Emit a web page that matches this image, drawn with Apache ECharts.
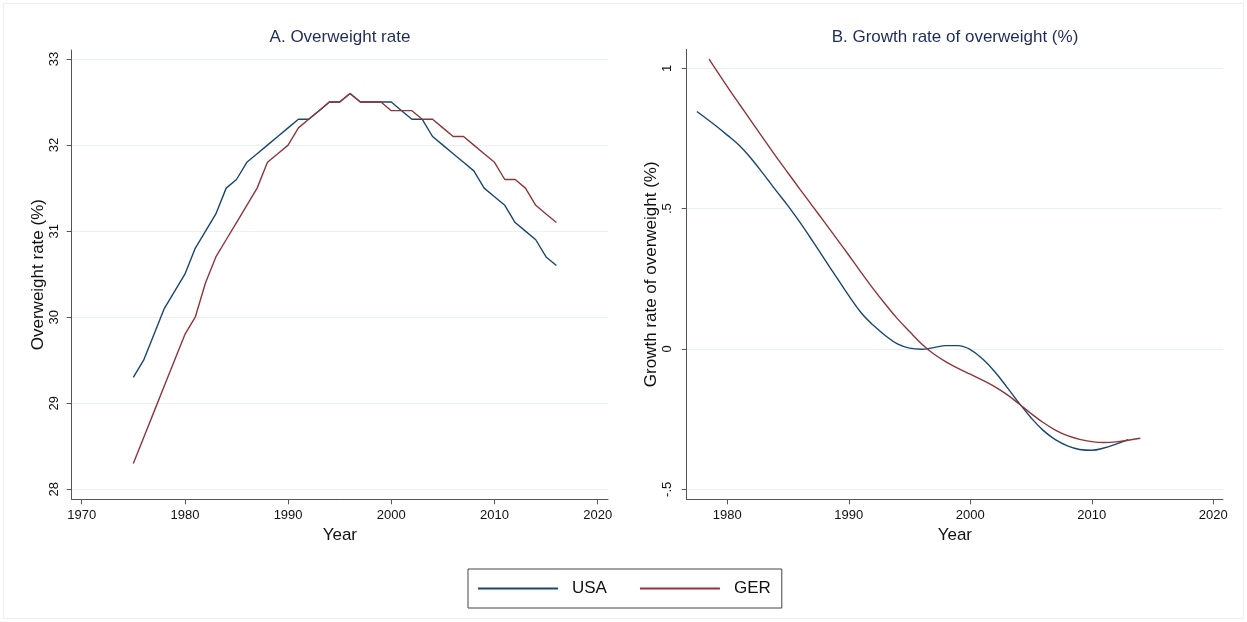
<!DOCTYPE html>
<html>
<head>
<meta charset="utf-8">
<script src="https://cdn.jsdelivr.net/npm/echarts@6.0.0/dist/echarts.min.js"></script>
<style>
html,body{margin:0;padding:0;background:#fff;}
#wrap{position:relative;width:1247px;height:622px;}
#chart{width:1247px;height:622px;}
#wrap::after{content:"";position:absolute;left:3px;top:3px;right:3px;bottom:3px;border:1px solid #eeeeee;pointer-events:none;}
</style>
</head>
<body>
<div id="wrap"><div id="chart"></div></div>
<script>
// ---- Data ----
const years = [1975,1976,1977,1978,1979,1980,1981,1982,1983,1984,1985,1986,1987,1988,1989,1990,1991,1992,1993,1994,1995,1996,1997,1998,1999,2000,2001,2002,2003,2004,2005,2006,2007,2008,2009,2010,2011,2012,2013,2014,2015,2016];
const usaRate = [29.3,29.5,29.8,30.1,30.3,30.5,30.8,31.0,31.2,31.5,31.6,31.8,31.9,32.0,32.1,32.2,32.3,32.3,32.4,32.5,32.5,32.6,32.5,32.5,32.5,32.5,32.4,32.3,32.3,32.1,32.0,31.9,31.8,31.7,31.5,31.4,31.3,31.1,31.0,30.9,30.7,30.6];
const gerRate = [28.3,28.6,28.9,29.2,29.5,29.8,30.0,30.4,30.7,30.9,31.1,31.3,31.5,31.8,31.9,32.0,32.2,32.3,32.4,32.5,32.5,32.6,32.5,32.5,32.5,32.4,32.4,32.4,32.3,32.3,32.2,32.1,32.1,32.0,31.9,31.8,31.6,31.6,31.5,31.3,31.2,31.1];

const usaGrowthYears = [1977.5,1979,1980,1981,1982,1983,1984,1985,1986,1987,1988,1989,1990,1991,1992,1993,1994,1995,1996,1997,1998,1999,2000,2001,2002,2003,2004,2005,2006,2007,2008,2009,2010,2011,2012,2013];
const usaGrowth = [0.846,0.797,0.762,0.725,0.677,0.622,0.565,0.51,0.45,0.386,0.32,0.255,0.19,0.13,0.085,0.048,0.018,0.003,-0.001,0.005,0.012,0.012,-0.002,-0.035,-0.08,-0.135,-0.192,-0.245,-0.29,-0.323,-0.345,-0.358,-0.361,-0.353,-0.339,-0.323];
const gerGrowthYears = [1978.5,1980,1981,1982,1983,1984,1985,1986,1987,1988,1989,1990,1991,1992,1993,1994,1995,1996,1997,1998,1999,2000,2001,2002,2003,2004,2005,2006,2007,2008,2009,2010,2011,2012,2013,2014];
const gerGrowth = [1.033,0.935,0.872,0.81,0.748,0.686,0.627,0.568,0.51,0.452,0.393,0.334,0.274,0.215,0.16,0.108,0.062,0.018,-0.018,-0.046,-0.069,-0.09,-0.111,-0.134,-0.162,-0.195,-0.23,-0.262,-0.289,-0.309,-0.322,-0.33,-0.333,-0.331,-0.325,-0.318];

const leftYTicks = [28,29,30,31,32,33];
const leftXTicks = [1970,1980,1990,2000,2010,2020];
const rightYTicks = [-0.5,0,0.5,1];
const rightYLabels = {'-0.5':'-.5','0':'0','0.5':'.5','1':'1'};
const rightXTicks = [1980,1990,2000,2010,2020];
const seriesNames = ['USA','GER'];

// ---- Style ----
const FONT = '"Liberation Sans", Arial, Helvetica, sans-serif';
const AXIS_COLOR = '#555555';
const GRID_COLOR = '#eaf1f2';
const USA_COLOR = '#1a476f';
const GER_COLOR = '#90353b';
const TITLE_COLOR = '#1f2c59';

function pairs(xs, ys){ return xs.map((x,i)=>[x, ys[i]]); }

function xAxisDef(idx, min, max, ticks){
  return {
    type:'value', gridIndex:idx, min:min, max:max,
    name:'Year', nameLocation:'middle', nameGap:26,
    nameTextStyle:{fontSize:17, color:'#111', fontFamily:FONT},
    axisLine:{show:true, onZero:false, lineStyle:{color:AXIS_COLOR, width:1}},
    axisTick:{show:true, length:5, customValues:ticks, lineStyle:{color:AXIS_COLOR}},
    axisLabel:{customValues:ticks, margin:10, fontSize:13, color:'#111', fontFamily:FONT, formatter:v=>String(v)},
    splitLine:{show:false}
  };
}
function yAxisDef(idx, min, max, ticks, name, gap, margin, fmt){
  return {
    type:'value', gridIndex:idx, min:min, max:max,
    name:name, nameLocation:'middle', nameGap:gap,
    nameTextStyle:{fontSize:17, color:'#111', fontFamily:FONT},
    axisLine:{show:true, onZero:false, lineStyle:{color:AXIS_COLOR, width:1}},
    axisTick:{show:true, length:5, customValues:ticks, lineStyle:{color:AXIS_COLOR}},
    axisLabel:{customValues:ticks, rotate:90, margin:margin, fontSize:13, color:'#111', fontFamily:FONT, formatter:fmt},
    splitLine:{show:true, lineStyle:{color:GRID_COLOR, width:1}}
  };
}

const option = {
  animation:false,
  backgroundColor:'#ffffff',
  title:[
    {text:'A. Overweight rate', left:340, top:29, textAlign:'center', padding:0,
     textStyle:{fontSize:17, fontWeight:'normal', color:TITLE_COLOR, fontFamily:FONT}},
    {text:'B. Growth rate of overweight (%)', left:955, top:29, textAlign:'center', padding:0,
     textStyle:{fontSize:17, fontWeight:'normal', color:TITLE_COLOR, fontFamily:FONT}}
  ],
  grid:[
    {left:71.7, top:50, width:536.3, height:449.3},
    {left:686.7, top:49.3, width:536.3, height:450}
  ],
  xAxis:[
    xAxisDef(0, 1969.03, 2021.0, leftXTicks),
    xAxisDef(1, 1976.66, 2020.8, rightXTicks)
  ],
  yAxis:[
    yAxisDef(0, 27.884, 33.105, leftYTicks, 'Overweight rate (%)', 23, 11, v=>String(v)),
    yAxisDef(1, -0.5356, 1.0677, rightYTicks, 'Growth rate of overweight (%)', 25, 13, v=>rightYLabels[String(v)] || String(v))
  ],
  legend:{
    data:seriesNames, left:468, top:569,
    padding:[11,11,11,10], itemGap:33, itemWidth:80, itemHeight:2, icon:'rect',
    borderColor:'#444', borderWidth:1,
    textStyle:{fontSize:17, color:'#111', fontFamily:FONT, padding:[0,0,0,9]}
  },
  series:[
    {name:'USA', type:'line', xAxisIndex:0, yAxisIndex:0, data:pairs(years, usaRate), symbol:'none', lineStyle:{color:USA_COLOR, width:1.4}, itemStyle:{color:USA_COLOR}},
    {name:'GER', type:'line', xAxisIndex:0, yAxisIndex:0, data:pairs(years, gerRate), symbol:'none', lineStyle:{color:GER_COLOR, width:1.4}, itemStyle:{color:GER_COLOR}},
    {name:'USA', type:'line', xAxisIndex:1, yAxisIndex:1, data:pairs(usaGrowthYears, usaGrowth), smooth:0.4, symbol:'none', lineStyle:{color:USA_COLOR, width:1.4}, itemStyle:{color:USA_COLOR}},
    {name:'GER', type:'line', xAxisIndex:1, yAxisIndex:1, data:pairs(gerGrowthYears, gerGrowth), smooth:0.4, symbol:'none', lineStyle:{color:GER_COLOR, width:1.4}, itemStyle:{color:GER_COLOR}}
  ]
};

const chart = echarts.init(document.getElementById('chart'), null, {renderer:'canvas'});
chart.setOption(option);
</script>
</body>
</html>
